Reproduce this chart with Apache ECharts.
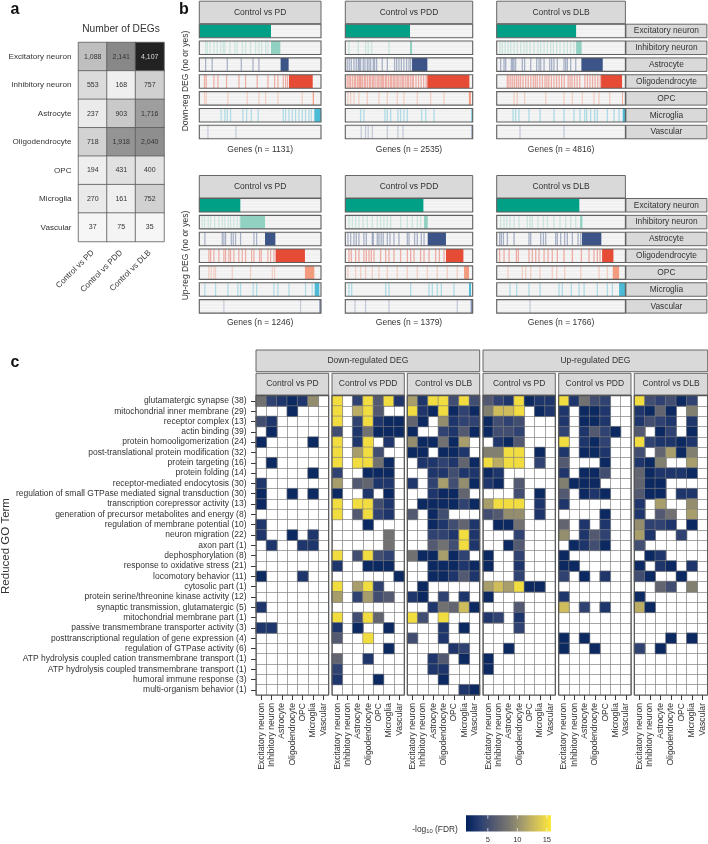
<!DOCTYPE html>
<html><head><meta charset="utf-8">
<style>html,body{margin:0;padding:0;background:#fff}#c{width:708px;height:844px}</style>
<script src="https://cdn.jsdelivr.net/npm/echarts@6/dist/echarts.min.js"></script>
</head><body><div id="c"></div>
<script>
const cellTypes = ['Excitatory neuron','Inhibitory neuron','Astrocyte','Oligodendrocyte','OPC','Microglia','Vascular'];
const comparisons = ['Control vs PD','Control vs PDD','Control vs DLB'];
const cellColors = ['#00A087','#91D1C2','#3C5488','#E64B35','#F39B7F','#4DBBD5','#8491B4'];

// panel a: number of DEGs, rows = cell type, columns = comparison
const degCounts = [
 [1088,2141,4107],[553,168,757],[237,903,1716],[718,1918,2040],[194,431,400],[270,161,752],[37,75,35]
];

// panel b: % position along the gene axis
const geneCountsDown = [1131,2535,4816];
const geneCountsUp = [1246,1379,1766];
const downPDBlocks = [[0,58.9],[58.9,66.6],[66.8,73.4],[73.7,93.2],[93.2,94.2],[94.5,100],[0,0]];
const downPDTicks = [[],
 [4.7,6,8.2,11.5,14.2,17,19.2,20.5,24.7,28.8,30.7,34.8,37.5,41.6,45.8,48.5,50.7,54,55.9],
 [4.7,10.1,22.5,34,43.6,48.5],
 [3.8,5.2,11.5,14.8,21.9,32.1,37.5,47.1,55.9,61.4,64.1,68.5,70.4,72],
 [3.8,5.2,23,38.9,48.5,54,64.1,84.1],
 [17.5,20.5,22.5,25.2,35.3,38.4,42.2,47.9,68.5,70.4,73.2,75.9,78.6,81.4,84.1,86.8,89.6,91.5],
 [6.6,29.6]];
const downPDDBlocks = [[0,50.8],[50.8,52.4],[52.4,64.4],[64.4,97.4],[97,98.6],[99,100],[99,100]];
const downPDDTicks = [[],
 [2.4,9.7,15.4,17.5,20.2,33.8],
 [1,2.6,4.2,6.3,8.1,9.7,10.5,11.5,13.6,14.9,16.8,18.1,19.4,21.5,22.5,24.1,28.5,32.5,38.2,39.8,41.6,43.5,45.5,47.6,49.5,50.8],
 [1,2.4,3.5,5,6.5,7.5,9,10.2,11,11.8,13,14.5,15.5,17,18.5,19.5,21,22,23.5,25,26,27.5,28.5,29.5,31,32,33.5,35,36,37.5,38.5,40,41,42.5,44,45,46.5,48,49,50.5,52,53,55,57,59,61,63],
 [1.6,3.7,6.3,10.2,16.8,25.9,32.5,40.3,45.5,56,66.5,77],
 [11.5,14.1,30.6,32.5,35.1,40.8,42.9,45.5,48.2,59.4,62.6,69.1],
 [12,15.4,17.5,20.7,32.5,40.8,44.8]];
const downDLBBlocks = [[0,61.7],[61.7,66],[65.8,82.4],[81.1,97.4],[97.4,98],[97.9,100],[0,0]];
const downDLBTicks = [[],
 [2.1,3.9,6,8.3,10.4,12.9,15.5,18.1,20.7,22.8,25.4,28.5,31.6,33.7,36.3,38.9,41.5,43.5,46.1,48.7,51.8,54.4,57,59.6],
 [2.6,5.2,6.5,10.9,11.9,12.9,14.2,19.4,21.2,25.9,30.6,32.4,33.7,36.3,40.7,42.2,44,46.6,51.8,53.1,54.4,57,60.9],
 [7.8,9,10.5,12,13.5,15,16.5,18,20,22,24,26,28,29.5,31,33,35,37,38.5,40,42,44,46,48,50,52,55,56.5,58,60,62,64,68,70,72,74,76,78,80],
 [13,15.5,21.2,37.6,51.8,58.3,66,75.1,79,87.3],
 [12.2,14.2,16.8,24.6,33.2,44,51.8,59.6,64.2,67.9,69.4,72.5,75.6,77.7,85.5,90.7,94.6],
 [17.6,51.8]];
const upPDBlocks = [[0,33.7],[33.7,54],[54,62.5],[62.7,86.8],[86.8,94.5],[94.8,98.6],[98.6,100]];
const upPDTicks = [[],
 [1.9,3.8,6.8,8.8,12.1,15.6,18.4,20.5,23.3,25.2,27.9,30.7,33],
 [4.1,18.4,19.7,21.1,25.8,27.4,29.3,33.4,44.4,46.6],
 [7.4,8.8,11.5,15.6,19.7,21.1,23.8,25.2,27.9,32,34.8,37.5,42.5,44.4,49,50.4,55.9,58.1,60.8],
 [7.4,9.3,11.5,12.9,26.6,41.6,59.5,61.4],
 [4.1,12.9,23,31.2,33.4,43.8,46.6,60.8,64.1,73.2,86.8,92.3],
 [19.7,82.7]];
const upPDDBlocks = [[0,61.3],[61.8,64.7],[64.7,79],[79,92.7],[93.2,97.1],[97.1,98.7],[98.4,100]];
const upPDDTicks = [[],
 [2.4,5,7.6,10.2,13.4,16.8,20.7,24.6,27.2,29.8,32.5,35.1,42.9,48.2,52.1,56,58.6],
 [1.6,3.7,6.3,8.1,10.2,14.1,16,20.7,21.5,24.6,25.9,27.7,29.3,32.5,34.6,37.7,41.6,48.2,49.5,53.9,56,59.2,61.3],
 [2.4,4.2,7.6,10.2,14.1,16,18.1,19.9,22,27.2,31.2,33.8,37.7,42.9,48.2,50.8,53.4,58.6,61.3,65.2,70.4,73.3,77],
 [1.6,7.6,11.5,15.4,20.7,25.9,32.5,40.3,48.2,56,63.9,71.7,79.6,87.4],
 [2.4,4.5,31.2,33.8,50.8,65.2,67.8,71.7,74.9,84.8],
 [7.1,15.4,33.8,87.4]];
const upDLBBlocks = [[0,64.2],[64.8,66.6],[66.3,81.3],[81.9,90.7],[90.2,95.1],[95.1,100],[0,0]];
const upDLBTicks = [[],
 [2.6,5.2,7.3,9.8,13,16.8,23.3,25.4,27.2,31.6,35.8,38.9,44,48.7,53.1,57,60.9],
 [1.8,3.1,4.7,7.8,13,24.6,25.9,33.7,35.8,37.6,45.3,46.6,49.2,52.3,54.4,58.3,62.7,64.8],
 [1.8,5.2,9.1,14.8,16.3,24.6,27.2,29.8,32.4,36.3,39.4,42.7,46.6,51.8,58.3,65.3,71.2,75.1,77.7,79.8],
 [8.3,19.4,22,25.9,33.2,42.7,46.1,52.3,64.8,79,85.5],
 [9.8,15,24.6,33.2,47.9,50.5,57.5,63.5,67.4,77.7,85.5,89.4],
 [25.4]];

// panel c: -log10(FDR); 0 = not significant (blank)
const goTerms = ['glutamatergic synapse (38)','mitochondrial inner membrane (29)','receptor complex (13)','actin binding (39)','protein homooligomerization (24)','post-translational protein modification (32)','protein targeting (16)','protein folding (14)','receptor-mediated endocytosis (30)','regulation of small GTPase mediated signal transduction (30)','transcription corepressor activity (13)','generation of precursor metabolites and energy (8)','regulation of membrane potential (10)','neuron migration (22)','axon part (1)','dephosphorylation (8)','response to oxidative stress (21)','locomotory behavior (11)','cytosolic part (1)','protein serine/threonine kinase activity (12)','synaptic transmission, glutamatergic (5)','mitochondrial membrane part (1)','passive transmembrane transporter activity (3)','posttranscriptional regulation of gene expression (4)','regulation of GTPase activity (6)','ATP hydrolysis coupled cation transmembrane transport (1)','ATP hydrolysis coupled transmembrane transport (1)','humoral immune response (3)','multi-organism behavior (1)'];
const heatDownPD = [
[8,4,3,2,3,10,0],[0,0,0,2,0,0,0],[5,3,0,0,0,0,0],[0,2,0,0,0,0,0],[2,0,0,0,0,2,0],[0,0,0,0,0,0,0],[0,2,0,0,0,0,0],[0,0,0,0,0,2,0],[3,0,0,0,0,0,0],[2,0,0,2,0,2,0],[2,0,0,0,0,0,0],[0,0,0,0,0,0,0],[3,0,0,0,0,0,0],[3,0,0,2,0,3,0],[0,3,0,0,3,3,0],
[0,0,0,0,0,0,0],[0,0,0,0,0,0,0],[2,0,0,0,3,0,0],[0,0,0,0,0,0,0],[0,0,0,0,0,0,0],[3,0,0,0,0,0,0],[0,0,0,0,0,0,0],[3,3,0,0,0,0,0],[0,0,0,0,0,0,0],[0,0,0,0,0,0,0],[0,0,0,0,0,0,0],[0,0,0,0,0,0,0],[0,0,0,0,0,0,0],[0,0,0,0,0,0,0]];
const heatDownPDD = [
[15,0,4,15,6,15,3],[15,0,12,15,6,0,0],[15,0,4,15,3,2,2],[5,0,3,8,2,2,2],[15,0,3,15,0,3,0],[15,0,11,15,5,0,0],[15,0,15,15,8,2,0],[4,0,0,2,2,2,0],[11,0,6,7,3,3,0],[2,0,0,3,0,2,0],[15,0,15,15,5,3,0],[15,0,6,15,4,3,0],[0,0,0,2,0,0,0],[0,0,0,0,0,8,0],[0,0,0,0,0,8,0],
[15,0,5,15,5,4,0],[3,0,0,2,2,2,0],[0,0,0,0,0,0,2],[15,0,11,15,4,0,0],[11,0,4,11,5,6,0],[0,0,0,0,0,0,0],[15,0,5,15,7,0,0],[3,0,2,0,0,2,0],[6,0,0,15,0,0,0],[0,0,0,0,0,2,0],[7,0,0,3,0,0,0],[4,0,0,0,0,0,0],[3,0,0,0,2,0,0],[0,0,0,0,0,0,0]];
const heatDownDLB = [
[11,3,15,15,5,15,5],[15,3,2,15,2,4,2],[7,2,0,10,3,4,4],[2,0,0,4,3,6,2],[10,2,2,8,2,11,0],[2,2,0,2,2,3,0],[0,3,3,4,3,7,2],[0,0,3,3,5,3,3],[3,0,4,11,5,10,2],[0,0,3,2,2,7,0],[0,2,2,2,2,4,2],[6,0,2,5,0,0,0],[0,0,2,3,5,7,3],[0,0,4,4,3,15,3],[0,0,6,8,5,15,3],
[8,2,2,11,2,4,0],[0,0,2,2,2,3,2],[0,0,2,2,3,6,3],[0,2,0,0,0,0,0],[3,2,0,4,0,3,0],[0,0,3,8,7,13,2],[15,5,0,15,0,0,0],[0,0,0,3,0,2,0],[5,0,0,3,0,0,0],[0,0,0,0,3,4,0],[0,0,3,6,0,2,0],[0,0,3,3,0,0,0],[0,0,0,2,0,0,0],[0,0,0,0,0,3,2]];
const heatUpPD = [
[6,4,3,15,2,3,3],[9,13,13,15,0,2,3],[2,5,4,5,0,0,0],[2,5,5,4,0,0,0],[0,3,2,6,0,0,0],[9,9,15,15,0,2,0],[15,12,15,15,0,4,0],[2,3,0,0,0,0,0],[3,2,0,6,0,0,0],[0,0,0,5,0,2,0],[11,15,15,15,0,3,0],[5,6,10,10,0,3,0],[0,2,2,8,0,0,0],[0,0,0,4,0,0,0],[0,0,2,6,0,0,0],
[2,0,0,4,0,0,0],[2,0,0,3,0,0,0],[0,0,0,4,0,0,0],[11,13,11,15,2,2,0],[2,0,0,0,0,0,0],[0,0,0,6,0,0,0],[3,4,0,3,0,0,0],[0,0,0,4,0,0,0],[0,0,0,0,0,0,0],[0,0,2,0,0,0,0],[2,0,0,0,0,0,0],[2,0,0,0,0,0,0],[0,0,0,0,0,0,0],[0,0,0,0,0,0,0]];
const heatUpPDD = [
[15,3,8,5,4,0,0],[3,0,2,2,3,0,0],[3,0,2,2,3,0,0],[4,0,3,6,4,2,0],[15,0,3,2,4,0,0],[3,0,2,2,3,0,0],[6,0,0,0,2,0,0],[3,0,2,2,5,0,0],[9,2,2,2,0,0,0],[6,0,2,3,2,0,0],[3,0,0,0,0,0,0],[0,0,0,0,2,0,0],[7,0,3,0,3,0,0],[10,0,3,6,4,0,0],[0,2,3,5,2,0,0],
[2,0,0,0,0,0,0],[2,2,0,0,0,0,0],[4,0,2,0,3,0,0],[0,0,0,0,0,0,0],[3,0,0,0,0,0,0],[13,0,4,0,3,0,0],[0,0,0,0,0,0,0],[0,0,0,0,0,0,0],[2,0,2,0,0,0,0],[2,0,0,2,0,0,0],[0,0,0,0,0,0,0],[0,0,0,0,0,0,0],[0,0,0,0,0,0,0],[0,0,0,0,0,0,0]];
const heatUpDLB = [
[15,5,4,5,2,4,0],[3,2,7,2,0,9,0],[3,5,4,3,0,3,0],[6,0,2,4,0,2,0],[15,4,3,3,2,3,0],[5,0,7,11,2,9,0],[3,2,9,0,0,11,0],[7,2,3,3,3,2,0],[7,2,2,0,0,0,0],[6,2,2,0,3,3,0],[3,0,11,0,0,10,0],[3,0,6,8,0,11,0],[10,4,4,3,0,2,0],[11,3,0,0,4,0,0],[5,0,0,0,0,0,0],
[0,2,3,0,0,0,0],[2,0,3,2,0,3,0],[5,2,0,0,2,0,0],[0,0,7,5,0,9,0],[2,0,0,0,0,0,0],[12,2,0,0,0,0,0],[0,0,0,0,0,0,0],[0,0,0,0,0,0,0],[0,0,0,2,0,2,0],[4,0,2,0,0,0,0],[0,0,0,0,0,0,0],[0,0,0,0,0,0,0],[0,0,0,0,0,0,0],[0,0,0,0,0,0,0]];
const fdrRange = [1.3,15.7];
const fdrTicks = [5,10,15];
const fdrPalette = ['#00205c','#2a3f72','#555a70','#777770','#a59c6d','#d4c257','#fee838'];

const FONT = 'Liberation Sans';
const TXT = '#333';
const grid=[],xAxis=[],yAxis=[],series=[],graphic=[];

function text(t,x,y,o={}){
  graphic.push({type:'text',x,y,rotation:o.rot||0,z:50,style:{text:t,textAlign:o.align||'center',textVerticalAlign:'middle',
    fontSize:o.size||8.5,fontFamily:FONT,fontWeight:o.weight||'normal',fill:o.fill||TXT,rich:o.rich}});
}
function strip(x,y,w,h,label,size){
  graphic.push({type:'rect',z:40,shape:{x,y,width:w,height:h},style:{fill:'#d9d9d9',stroke:'#666',lineWidth:1}});
  text(label,x+w/2,y+h/2,{size:size||8.5});
}
function frame(x,y,w,h,col,lw){
  graphic.push({type:'rect',z:45,silent:true,shape:{x,y,width:w,height:h},style:{fill:'none',stroke:col,lineWidth:lw}});
}

// ---------- panel letters & titles
text('a',15,10,{size:16,weight:'bold',fill:'#111'});
text('b',184,10,{size:16,weight:'bold',fill:'#111'});
text('c',15,363,{size:16,weight:'bold',fill:'#111'});
text('Number of DEGs',121,29,{size:10.2});

// ---------- panel a
{
  const g=grid.length;
  grid.push({left:78.5,top:42.5,width:85.5,height:199,show:false});
  xAxis.push({gridIndex:g,type:'category',data:comparisons,position:'bottom',
    axisLine:{show:false},axisTick:{show:false},
    axisLabel:{interval:0,rotate:45,fontSize:8.1,fontFamily:FONT,color:TXT,margin:10}});
  yAxis.push({gridIndex:g,type:'category',data:cellTypes,inverse:true,
    axisLine:{show:false},axisTick:{show:false},
    axisLabel:{interval:0,fontSize:8.1,fontFamily:FONT,color:TXT,margin:7}});
  const data=[];
  degCounts.forEach((r,ri)=>r.forEach((v,ci)=>data.push({value:[ci,ri,v],
    label:{color:v>3000?'#ddd':'#333'}})));
  series.push({type:'heatmap',xAxisIndex:g,yAxisIndex:g,data,
    itemStyle:{borderColor:'#5a5a5a',borderWidth:.8},
    label:{show:true,fontSize:7,fontFamily:FONT,formatter:p=>p.value[2].toLocaleString('en-US')},
    emphasis:{disabled:true}});
}

// ---------- panel b
const rowPitch=16.85, rowH=13.5;
const bCols=[[199.3,121.7],[345.3,127.4],[496.7,128.7]];
function barcodePanel(colIdx,topStrip,blocks,ticks,n){
  const [x,w]=bCols[colIdx];
  strip(x,topStrip,w,22.5,comparisons[colIdx]);
  const top=topStrip+23;
  cellTypes.forEach((ct,ri)=>{
    const g=grid.length, y=top+ri*rowPitch;
    grid.push({left:x,top:y,width:w,height:rowH,show:true,backgroundColor:'#f1f1f1',borderWidth:0});
    xAxis.push({gridIndex:g,type:'value',min:0,max:100,show:false});
    yAxis.push({gridIndex:g,type:'value',min:0,max:1,interval:.25,axisLine:{show:false},axisTick:{show:false},axisLabel:{show:false},
      splitLine:{show:true,lineStyle:{color:'#fafafa',width:.5}}});
    const data=ticks[ri].map(p=>[p,p+1,.42]);
    const b=blocks[ri];
    if(b[1]>b[0]) data.push([b[0],b[1],1]);
    series.push({type:'custom',xAxisIndex:g,yAxisIndex:g,data,encode:{x:[0,1],y:[]},clip:true,silent:true,
      renderItem:(p,api)=>{
        const a=api.coord([api.value(0),1]),c=api.coord([api.value(1),0]);
        return {type:'rect',shape:{x:a[0],y:a[1],width:c[0]-a[0],height:c[1]-a[1]},
          style:{fill:cellColors[ri],opacity:api.value(2)}};
      }});
    frame(x,y,w,rowH,'#5f5f5f',1.1);
    if(colIdx===2) strip(x+w+.5,y,81,rowH,ct,8.4);
  });
  text('Genes (n = '+n+')',x+w/2,top+7*rowPitch+(topStrip<100?6.6:5.6)+1);
}
barcodePanel(0,1.2,downPDBlocks,downPDTicks,geneCountsDown[0]);
barcodePanel(1,1.2,downPDDBlocks,downPDDTicks,geneCountsDown[1]);
barcodePanel(2,1.2,downDLBBlocks,downDLBTicks,geneCountsDown[2]);
barcodePanel(0,175.5,upPDBlocks,upPDTicks,geneCountsUp[0]);
barcodePanel(1,175.5,upPDDBlocks,upPDDTicks,geneCountsUp[1]);
barcodePanel(2,175.5,upDLBBlocks,upDLBTicks,geneCountsUp[2]);
text('Down-reg DEG (no or yes)',186,81,{rot:Math.PI/2,size:8.5});
text('Up-reg DEG (no or yes)',186,255.5,{rot:Math.PI/2,size:8.5});

// ---------- panel c
const heatSeriesIdx=[];
const cPanels=[[256,72.7,heatDownPD,0],[332,72.3,heatDownPDD,1],[407.3,72.4,heatDownDLB,2],
               [483,72.3,heatUpPD,0],[558.7,72.3,heatUpPDD,1],[634.3,73.4,heatUpDLB,2]];
strip(256,350,223.7,21.7,'Down-regulated DEG');
strip(483,350,224.7,21.7,'Up-regulated DEG');
cPanels.forEach(([x,w,m,ci],pi)=>{
  strip(x,373.3,w,21.7,comparisons[ci]);
  const g=grid.length;
  grid.push({left:x,top:395.7,width:w,height:299.3,show:true,backgroundColor:'#fff',borderWidth:0});
  const split={show:true,interval:0,lineStyle:{color:'#808080',width:.7}};
  xAxis.push({gridIndex:g,type:'category',data:cellTypes,position:'bottom',
    axisLine:{show:false},axisTick:{show:true,interval:0,alignWithLabel:true,length:5,lineStyle:{color:'#222',width:.9}},
    splitLine:split,
    axisLabel:{interval:0,rotate:90,fontSize:8.6,fontFamily:FONT,color:TXT,margin:8}});
  yAxis.push({gridIndex:g,type:'category',data:goTerms,inverse:true,
    axisLine:{show:false},axisTick:{show:pi===0,interval:0,alignWithLabel:true,length:5,lineStyle:{color:'#222',width:.9}},
    splitLine:split,
    axisLabel:{show:pi===0,interval:0,fontSize:8.5,fontFamily:FONT,color:TXT,margin:9.5}});
  const data=[];
  m.forEach((r,ri)=>r.forEach((v,c)=>{if(v>0)data.push([c,ri,v]);}));
  heatSeriesIdx.push(series.length);
  series.push({type:'heatmap',xAxisIndex:g,yAxisIndex:g,data,
    itemStyle:{borderColor:'#808080',borderWidth:.6},emphasis:{disabled:true}});
  frame(x,395.7,w,299.3,'#555',1.2);
});
text('Reduced GO Term',6,546,{rot:Math.PI/2,size:11.5});

// ---------- colour bar
{
  const g=grid.length;
  grid.push({left:466,top:815.3,width:85,height:17,show:false});
  xAxis.push({gridIndex:g,type:'value',min:fdrRange[0],max:fdrRange[1],
    axisLine:{show:false},axisTick:{show:false},splitLine:{show:false},
    axisLabel:{customValues:fdrTicks,fontSize:7.6,fontFamily:FONT,color:TXT,margin:4.5,showMinLabel:true,showMaxLabel:true}});
  yAxis.push({gridIndex:g,type:'value',min:0,max:1,show:false});
  series.push({type:'custom',xAxisIndex:g,yAxisIndex:g,data:[fdrRange],silent:true,encode:{x:[0,1],y:[]},
    renderItem:(p,api)=>{
      const a=api.coord([api.value(0),1]),c=api.coord([api.value(1),0]);
      const stops=fdrPalette.map((col,i)=>({offset:i/(fdrPalette.length-1),color:col}));
      return {type:'rect',shape:{x:a[0],y:a[1],width:c[0]-a[0],height:c[1]-a[1]},
        style:{fill:{type:'linear',x:0,y:0,x2:1,y2:0,colorStops:stops}}};
    }});
  series.push({type:'custom',xAxisIndex:g,yAxisIndex:g,data:fdrTicks.map(v=>[v]),silent:true,encode:{x:0,y:[]},z:3,
    renderItem:(p,api)=>{
      const a=api.coord([api.value(0),1]),c=api.coord([api.value(0),0]);
      const st={stroke:'#fff',lineWidth:.7};
      return {type:'group',children:[
        {type:'line',shape:{x1:a[0],y1:a[1],x2:a[0],y2:a[1]+3.4},style:st},
        {type:'line',shape:{x1:c[0],y1:c[1],x2:c[0],y2:c[1]-3.4},style:st}]};
    }});
  text('-log{s|10} (FDR)',435,830,{size:8.4,rich:{s:{fontSize:5.8,padding:[3,0,0,0],fontFamily:FONT,fill:TXT}}});
}

const chart=echarts.init(document.getElementById('c'),null,{renderer:'canvas',width:708,height:844});
chart.setOption({
  animation:false,backgroundColor:'#fff',tooltip:{show:false},
  grid,xAxis,yAxis,series,graphic:{elements:graphic},
  visualMap:[
    {type:'continuous',show:false,seriesIndex:0,dimension:2,min:35,max:4107,inRange:{color:['#f6f6f6','#222222']}},
    {type:'continuous',show:false,seriesIndex:heatSeriesIdx,dimension:2,min:fdrRange[0],max:fdrRange[1],inRange:{color:fdrPalette}}
  ]
});
</script></body></html>
